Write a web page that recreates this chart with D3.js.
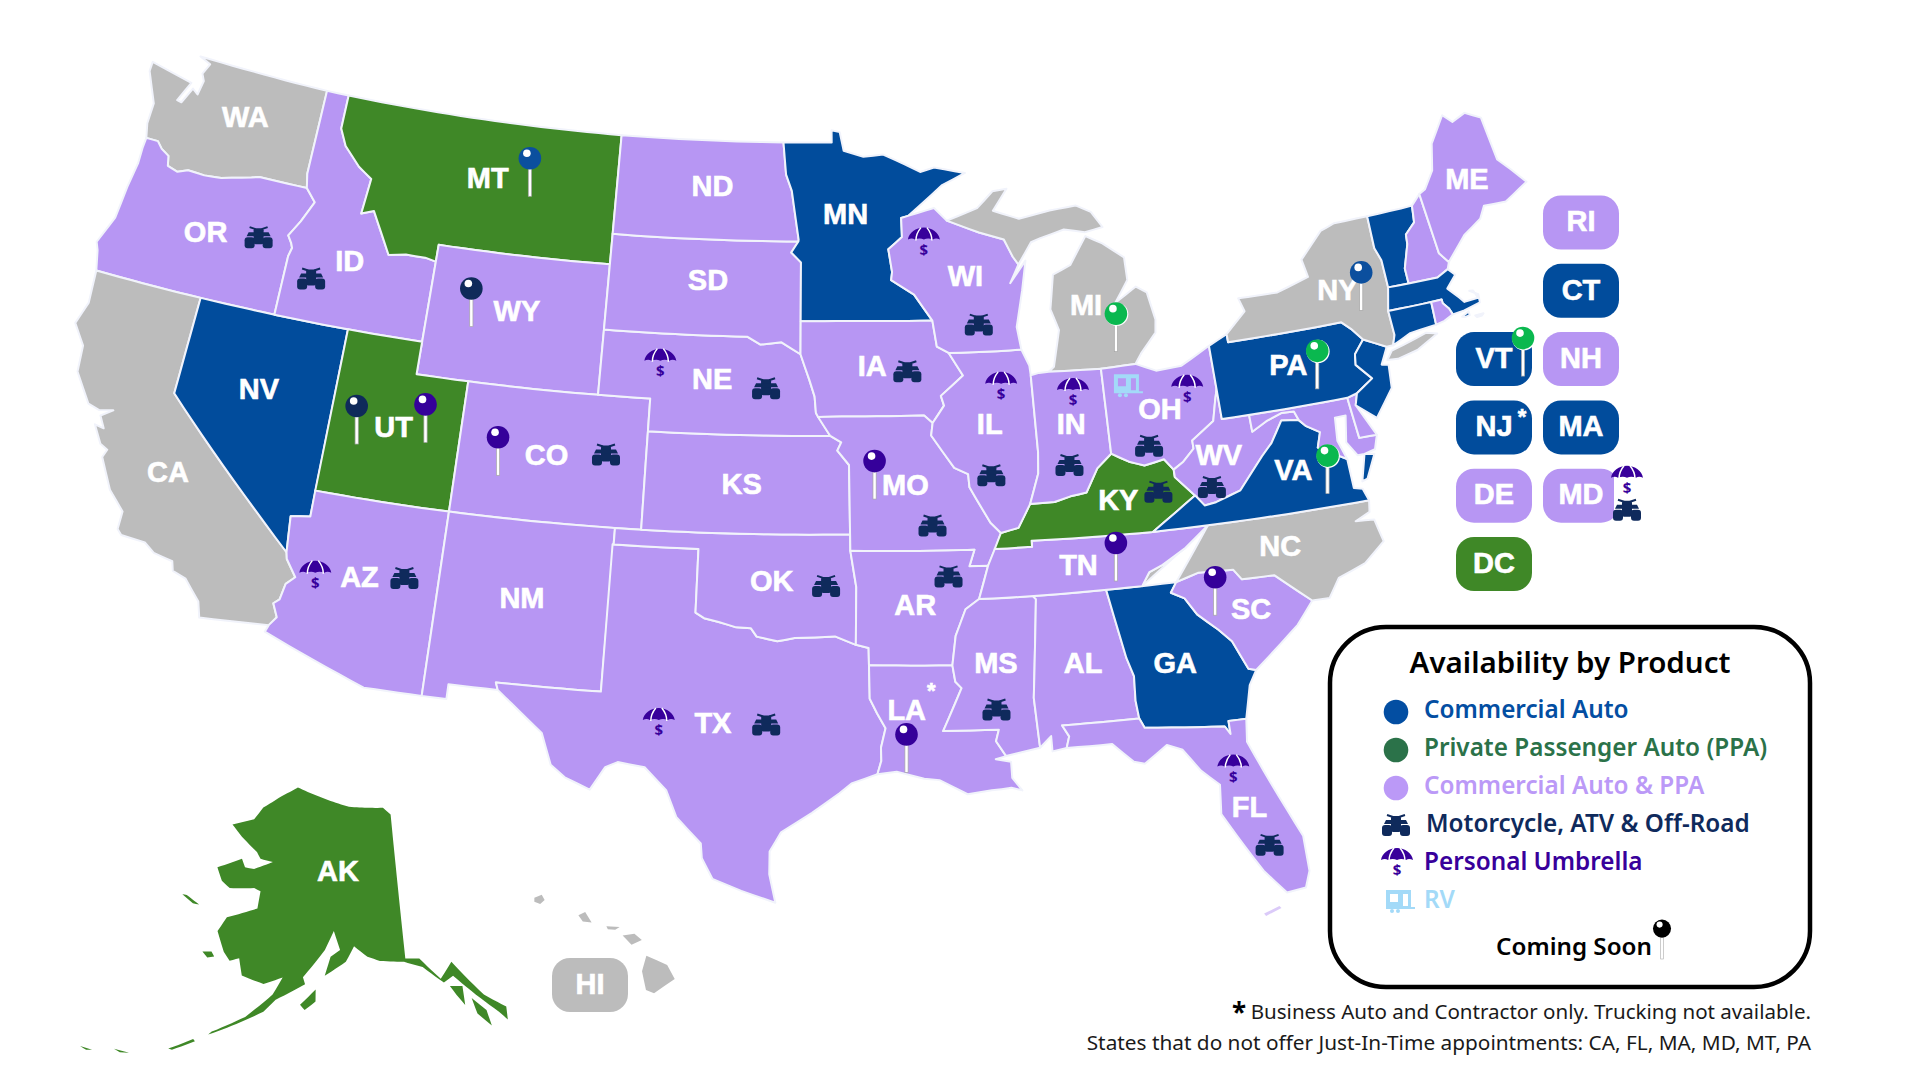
<!DOCTYPE html>
<html>
<head>
<meta charset="utf-8">
<style>
html,body{margin:0;padding:0;background:#fff;}
svg{display:block;}
</style>
<script src="https://cdn.jsdelivr.net/npm/d3@7"></script>
</head>
<body>
<svg id="map" width="1920" height="1080"></svg>
<script>
// shared borders, lon/lat
var columbia=[[-123.95,46.3],[-123.45,46.3],[-123.2,46.1],[-122.85,45.95],[-122.75,45.65],[-122.3,45.55],[-121.9,45.68],[-121.2,45.65],[-120.5,45.7],[-119.3,45.93],[-118.98,46.0],[-116.92,45.99]];
var snake=[[-116.92,45.99],[-116.46,45.61],[-116.85,44.95],[-117.22,44.45],[-117.03,44.24],[-116.95,44.1],[-117.03,43.83],[-117.03,42.0]];
var bitterroot=[[-116.05,48.0],[-115.7,47.5],[-114.95,46.95],[-114.33,46.65],[-114.45,45.55],[-113.95,45.7],[-113.45,45.05],[-113.0,44.45],[-112.3,44.55],[-111.5,44.55],[-111.05,44.48]];
var colorado=[[-114.63,35.0],[-114.57,34.8],[-114.14,34.3],[-114.43,34.05],[-114.53,33.55],[-114.72,33.4],[-114.5,33.0],[-114.72,32.72]];
var redRiver=[[-100,34.56],[-99.7,34.4],[-99.2,34.3],[-98.6,34.15],[-98.1,34.13],[-97.9,33.88],[-97.2,33.75],[-96.6,33.85],[-95.9,33.87],[-95.2,33.9],[-94.48,33.64]];
var sabine=[[-94.04,33.02],[-94.04,32.0],[-93.8,31.55],[-93.53,31.1],[-93.7,30.5],[-93.7,30.1],[-93.84,29.69]];
var missouriUp=[[-95.31,40],[-95.85,40.7],[-95.9,41.2],[-96.1,41.7],[-96.45,42.49]];
var neTop=[[-96.45,42.49],[-97.2,42.85],[-98.0,42.77],[-98.5,43],[-104.05,43]];
var ksMo=[[-95.31,40],[-94.9,39.8],[-95.05,39.55],[-94.62,39.11],[-94.62,37]];
var mnWi=[[-92.29,46.66],[-92.29,46.07],[-92.87,45.7],[-92.75,45.0],[-92.8,44.75],[-91.9,44.3],[-91.22,43.5]];
var ndMn=[[-97.23,49],[-97.1,48],[-96.85,47.5],[-96.55,46.0],[-96.56,45.94]];
var sdMn=[[-96.56,45.94],[-96.85,45.6],[-96.45,45.3],[-96.45,43.5]];
var iaIl=[[-91.22,43.5],[-91.1,42.7],[-90.65,42.5],[-90.15,41.8],[-91.05,41.2],[-90.95,40.9],[-91.42,40.38]];
var moIl=[[-91.42,40.38],[-91.5,40.0],[-90.7,39.0],[-90.2,38.8],[-90.18,38.4],[-89.5,37.3],[-89.15,36.98]];
var arMs=[[-89.7,36.0],[-90.1,35.0],[-90.6,34.7],[-91.0,33.9],[-91.17,33.0]];
var laMs=[[-91.17,33.0],[-91.1,32.5],[-90.9,32.3],[-91.6,31.0],[-89.73,31.0],[-89.85,30.65],[-89.55,30.18]];
var msAl=[[-88.2,35],[-88.1,34.9],[-88.47,31.9],[-88.4,30.37]];
var alGa=[[-85.6,35],[-85.18,32.87],[-85.0,32.3],[-85.05,31.55],[-85.0,31.0]];
var gaSc=[[-83.11,35],[-83.35,34.7],[-82.9,34.48],[-82.55,33.95],[-81.9,33.4],[-81.5,33.0],[-81.1,32.1],[-80.85,32.03]];
var ncSc=[[-83.11,35],[-82.3,35.2],[-81.05,35.15],[-80.8,34.82],[-79.67,34.8],[-78.55,33.86]];
var ncTn=[[-84.32,35],[-84.0,35.4],[-83.5,35.57],[-82.6,36.0],[-81.68,36.59]];
var kyOhio=[[-88.0,37.8],[-87.1,37.8],[-86.5,37.93],[-85.9,38.0],[-85.4,38.7],[-84.82,39.1]];
var kyOh=[[-84.82,39.1],[-84.2,38.8],[-83.65,38.63],[-82.9,38.75],[-82.6,38.4]];
var wvOh=[[-82.6,38.4],[-82.2,38.6],[-81.75,38.95],[-81.75,39.2],[-80.85,39.7],[-80.65,40.3],[-80.52,40.64]];
var kyWv=[[-82.6,38.4],[-82.6,38.17],[-81.97,37.54]];
var vaWv=[[-81.97,37.54],[-81.68,37.2],[-81.25,37.25],[-80.3,37.5],[-79.3,38.42],[-78.87,38.77],[-78.35,39.4],[-77.72,39.32]];
var mdWv=[[-79.48,39.72],[-79.48,39.2],[-78.9,39.45],[-78.3,39.62],[-77.83,39.6],[-77.72,39.32]];
var potomac=[[-77.72,39.32],[-77.5,39.1],[-77.05,38.85],[-77.25,38.4],[-76.3,37.9]];
var paNj=[[-74.7,41.36],[-75.13,40.97],[-75.2,40.65],[-74.72,40.15],[-75.4,39.8]];
var nyPa=[[-75.35,42.0],[-75.05,41.75],[-74.7,41.36]];
var nyVt=[[-73.35,45.0],[-73.4,44.0],[-73.25,43.6],[-73.27,42.75]];
var vtNh=[[-71.5,45.01],[-71.6,44.5],[-72.05,44.2],[-72.1,43.9],[-72.45,43.2],[-72.46,42.73]];
var nhMa=[[-72.46,42.73],[-71.3,42.7],[-70.82,42.87]];
var ri=[[-71.38,42.02],[-71.38,41.9],[-71.2,41.7],[-71.12,41.5]];
function rev(a){return a.slice().reverse();}

var WA=[[-124.7,48.6],[-122.84,48.3],[-123.2,47.67],[-123,47.64],[-122.7,48.14],[-122.44,48.0],[-122.35,48.45],[-122.5,48.66],[-122.3,49.0],[-122.8,49.16],[-117.03,49.05],[-117.04,46.42]].concat(rev(columbia),[[-124.1,46.74],[-124.1,47.38],[-124.7,48.3]]);
var OR=columbia.concat(snake.slice(1),[[-124.21,42],[-124.41,42.6],[-124.55,42.84],[-124.15,43.7],[-124.07,44.7],[-123.95,45.5],[-123.97,46.0]]);
var CA=[[-124.21,42],[-120,42],[-120,39]].concat(colorado,[[-117.12,32.53],[-117.28,33.0],[-117.9,33.6],[-118.4,33.75],[-118.5,34.03],[-119.2,34.15],[-119.6,34.4],[-120.47,34.45],[-120.65,34.6],[-120.65,35.15],[-121.3,35.7],[-121.9,36.6],[-121.8,36.85],[-122.1,36.97],[-122.5,37.5],[-122.15,37.45],[-122.4,37.8],[-122.0,38.05],[-122.5,37.95],[-122.95,38.05],[-123.7,38.9],[-123.8,39.7],[-124.35,40.3],[-124.1,41.0]]);
var NV=[[-120,42],[-114.04,42],[-114.04,36.2],[-114.75,36.1],[-114.63,35],[-120,39]];
var ID=[[-117.03,49.05],[-116.05,49.05]].concat(bitterroot,[[-111.05,42],[-117.03,42]],rev(snake).slice(1),[[-117.04,46.42]]);
var MT=[[-116.05,49.05],[-104.05,49],[-104.05,45],[-111.05,45]].concat(rev(bitterroot));
var WY=[[-111.05,45],[-104.05,45],[-104.05,41],[-111.05,41]];
var UT=[[-114.04,42],[-111.05,42],[-111.05,41],[-109.05,41],[-109.05,37],[-114.05,37]];
var CO=[[-109.05,41],[-102.05,41],[-102.05,37],[-109.05,37]];
var AZ=[[-114.05,37],[-109.05,37],[-109.05,31.33],[-111.07,31.33],[-114.81,32.5]].concat(rev(colorado),[[-114.75,36.1],[-114.04,36.2]]);
var NM=[[-109.05,37],[-103,37],[-103.04,32],[-106.62,32],[-106.53,31.78],[-108.21,31.78],[-108.21,31.33],[-109.05,31.33]];
var TX=[[-103.04,36.5],[-100,36.5]].concat(redRiver,[[-94.04,33.55]],sabine,[[-94.7,29.4],[-95.1,29.1],[-96.0,28.5],[-97.0,27.9],[-97.35,27.3],[-97.35,26.6],[-97.15,25.72],[-98.2,26.07],[-99.1,26.42],[-99.45,27.05],[-99.5,27.5],[-100.3,28.28],[-100.67,29.1],[-101.4,29.77],[-102.3,29.88],[-102.7,29.7],[-103.15,28.98],[-104.0,29.3],[-104.5,29.65],[-104.9,30.6],[-106.0,31.4],[-106.53,31.78],[-106.62,32],[-103.04,32]]);
var OK=[[-103,37],[-94.62,37],[-94.62,36.5],[-94.43,35.4]].concat(rev(redRiver),[[-100,36.5],[-103,36.5]]);
var KS=[[-102.05,40]].concat(ksMo,[[-102.05,37]]);
var NE=[[-104.05,43]].concat(rev(neTop).slice(1),rev(missouriUp).slice(1),[[-102.05,40],[-102.05,41],[-104.05,41]]);
var SD=[[-104.05,45.94]].concat(sdMn,[[-96.45,42.49]],neTop.slice(1));
var ND=[[-104.05,49]].concat(ndMn,[[-104.05,45.94]]);
var MN=[[-97.23,49],[-95.15,49],[-95.15,49.38],[-94.8,49.32],[-94.64,48.74],[-93.8,48.55],[-92.95,48.62],[-92.0,48.3],[-91.4,48.07],[-90.8,48.2],[-89.5,48.0],[-90.5,47.65],[-92.0,46.72]].concat(mnWi,rev(sdMn),rev(ndMn).slice(1,-1));
var IA=[[-96.45,43.5]].concat(iaIl,[[-91.73,40.61],[-95.77,40.58]],missouriUp.slice(1));
var MO=[[-95.77,40.58],[-91.73,40.61]].concat(moIl,[[-89.4,36.5],[-89.7,36.0],[-90.37,36.0],[-90.15,36.5],[-94.62,36.5],[-94.62,37]],rev(ksMo).slice(1));
var AR=[[-94.62,36.5],[-90.15,36.5],[-90.37,36.0]].concat(arMs,[[-94.04,33.02],[-94.04,33.55],[-94.48,33.64],[-94.43,35.4]]);
var LA=[[-94.04,33.02]].concat(laMs,[[-89.9,30.1],[-89.4,30.0],[-89.4,29.5],[-89.1,29.1],[-89.45,29.2],[-90.1,29.15],[-90.9,29.05],[-91.8,29.5],[-92.3,29.55],[-93.2,29.77]],rev(sabine).slice(0,-1));
var MS=[[-90.1,35]].concat(msAl,rev(laMs),rev(arMs).slice(1,-2));
var AL=msAl.concat([[-88.0,30.7],[-88.0,30.23],[-87.52,30.3],[-87.4,30.65],[-87.6,31.0]],rev(alGa));
var GA=[[-85.6,35]].concat(gaSc,[[-81.15,31.6],[-81.45,30.6],[-82.05,30.6],[-82.05,30.2],[-82.2,30.45],[-84.86,30.7]],rev(alGa).slice(0,-1));
var FL=[[-87.6,31],[-85,31],[-84.86,30.7],[-82.2,30.45],[-82.05,30.2],[-82.05,30.6],[-81.45,30.6],[-81.55,29.9],[-81.0,28.5],[-80.3,26.8],[-80.3,25.7],[-80.5,25.2],[-81.1,25.13],[-81.7,25.9],[-82.15,26.7],[-82.75,27.8],[-82.65,28.7],[-83.2,29.2],[-83.7,29.9],[-84.2,30.1],[-85.0,29.6],[-85.35,29.7],[-86.0,30.3],[-87.52,30.3],[-87.4,30.65]];
var SC=ncSc.concat([[-79.2,33.2],[-79.9,32.7]],rev(gaSc).slice(0,-1));
var NC=[[-81.68,36.59],[-75.87,36.55],[-75.95,36.2],[-76.5,36.0],[-75.85,35.95],[-75.7,35.25],[-76.5,34.7],[-77.5,34.4],[-77.95,33.85]].concat(rev(ncSc),rev(ncTn));
var TN=[[-89.42,36.5],[-88.07,36.5],[-88.07,36.68],[-83.68,36.6]].concat(rev(ncTn),[[-90.1,35],[-89.7,36]]);
var KY=[[-89.42,36.5],[-89.15,36.98],[-88.5,37.1]].concat(kyOhio,kyOh.slice(1),kyWv.slice(1),[[-83.68,36.6],[-88.07,36.68],[-88.07,36.5]]);
var IL=[[-90.65,42.5],[-87.8,42.5],[-87.55,42.0],[-87.53,41.7],[-87.53,39.35],[-87.6,38.7],[-88.0,37.8],[-88.5,37.1]].concat(rev(moIl),[[-90.95,40.9],[-91.05,41.2],[-90.15,41.8]]);
var WI=[[-92.29,46.66],[-92,46.72],[-90.9,46.95],[-90.4,46.55],[-89.1,46.15],[-88.1,45.9],[-87.8,45.35],[-87.6,45.1],[-88.0,44.55],[-87.3,45.2],[-87.55,44.3],[-87.9,43.2],[-87.8,42.5],[-90.65,42.5],[-91.1,42.7]].concat(rev(mnWi).slice(0,-1));
var MI_LOWER=[[-86.82,41.76],[-84.8,41.7],[-83.45,41.73],[-83.15,42.05],[-82.5,42.6],[-82.42,43.0],[-82.6,43.85],[-83.0,44.07],[-83.9,43.65],[-83.3,44.3],[-83.3,45.0],[-84.1,45.5],[-84.75,45.78],[-85.1,45.4],[-85.5,44.95],[-86.25,44.7],[-86.5,43.65],[-86.25,43.0],[-86.6,41.9]];
var MI_UPPER=[[-90.4,46.55],[-89.1,46.9],[-88.4,47.4],[-87.8,47.45],[-88.45,46.8],[-87.4,46.5],[-86.1,46.67],[-85.0,46.75],[-84.4,46.5],[-84.0,46.0],[-84.75,45.9],[-85.6,46.05],[-86.6,45.85],[-87.0,45.75],[-87.6,45.1],[-87.8,45.35],[-88.1,45.9],[-89.1,46.15]];
var IN=[[-87.53,41.7],[-87.2,41.75],[-86.82,41.76],[-84.8,41.7],[-84.82,39.1]].concat(rev(kyOhio).slice(1),[[-87.6,38.7],[-87.53,39.35]]);
var OH=[[-84.8,41.7],[-83.45,41.73],[-82.7,41.45],[-81.7,41.5],[-80.52,41.98],[-80.52,40.64]].concat(rev(wvOh).slice(1),rev(kyOh).slice(1));
var WV=[[-80.52,40.64],[-80.52,39.72]].concat(mdWv,rev(vaWv).slice(1),rev(kyWv).slice(1),wvOh.slice(1,-1));
var VA=[[-83.68,36.6]].concat(vaWv,potomac.slice(1),[[-76.3,37.0],[-76.0,36.93],[-75.87,36.55],[-81.68,36.59]]);
var VA_SHORE=[[-75.95,37.15],[-75.65,37.95],[-75.3,37.9],[-75.75,37.2]];
var MD=[[-79.48,39.72],[-75.79,39.72],[-75.7,38.46],[-75.05,38.45],[-75.24,38.03],[-75.65,37.95],[-75.9,37.95],[-76.2,38.4],[-76.0,39.2],[-76.4,39.2],[-76.5,38.5]].concat(rev(potomac),rev(mdWv).slice(1,-1));
var DE=[[-75.79,39.72],[-75.4,39.8],[-75.55,39.45],[-75.05,38.45],[-75.7,38.46]];
var PA=[[-80.52,41.98],[-79.76,42.25],[-79.76,42]].concat(nyPa,paNj.slice(1),[[-75.79,39.72],[-80.52,39.72]]);
var NJ=[[-74.7,41.36],[-73.9,41.0],[-74.25,40.5],[-74.0,40.45],[-74.1,39.75],[-74.9,38.95],[-75.55,39.45]].concat(rev(paNj).slice(0,-1));
var NY=[[-79.76,42.25],[-78.9,42.85],[-79.05,43.27],[-77.5,43.25],[-76.2,43.55],[-76.3,44.1],[-75.3,44.85],[-74.7,45]].concat(nyVt,[[-73.5,42.05],[-73.5,41.3],[-73.65,41.0],[-73.9,41.0]],rev(nyPa),[[-79.76,42]]);
var LONG_ISLAND=[[-74.0,40.6],[-73.75,40.85],[-72.3,41.15],[-71.9,41.05],[-72.8,40.7],[-73.6,40.57]];
var VT=nyVt.concat(rev(vtNh));
var NH=vtNh.concat(nhMa.slice(1),[[-70.7,43.07],[-70.98,43.4],[-71.08,45.3]]);
var ME=[[-71.08,45.3],[-70.8,45.4],[-70.3,45.9],[-70.0,46.7],[-69.23,47.46],[-68.9,47.18],[-68.3,47.35],[-67.7,47.07],[-67.6,45.7],[-67.2,45.3],[-66.75,44.8],[-67.8,44.4],[-68.7,44.45],[-69.0,44.1],[-69.8,43.75],[-70.7,43.07],[-70.98,43.4]];
var MA=[[-73.5,42.05],[-73.27,42.75]].concat(nhMa.slice(0),[[-70.6,42.65],[-71.05,42.3],[-70.7,41.95],[-70.55,41.78],[-70.0,41.8],[-70.1,42.05],[-70.25,42.07],[-69.95,41.9],[-69.98,41.65],[-70.65,41.53]],rev(ri),[[-71.8,42.02]]);
var CT=[[-73.5,42.05],[-71.8,42.02],[-71.85,41.32],[-72.9,41.25],[-73.65,41],[-73.5,41.3]];
var RI=[[-71.8,42.02]].concat(ri,[[-71.5,41.37],[-71.85,41.32]]);
var NANTUCKET=[[-70.3,41.3],[-69.97,41.3],[-70.05,41.25],[-70.25,41.24]];
var MARTHA=[[-70.8,41.36],[-70.5,41.47],[-70.5,41.35],[-70.7,41.33]];
var FL_KEYS=[[-81.35,24.68],[-81.85,24.5],[-81.9,24.58],[-81.4,24.75]];

var AK=[[-158.8,70.87],[-148.85,69.95],[-142.6,69.84],[-141.3,69.36],[-141,60.04],[-139.2,59.95],[-136.86,58.47],[-135.2,59.44],[-132.1,56.96],[-129.9,55.86],[-130.1,55.03],[-130.85,55.66],[-133.45,57.34],[-135.3,58.54],[-136.55,58.2],[-138.9,59.38],[-141.2,59.83],[-144.3,59.99],[-145.9,60.28],[-147.66,60.95],[-148.7,59.95],[-151.3,59.0],[-150.7,60.24],[-149.5,60.7],[-150.45,61.9],[-151.5,60.65],[-154,58.78],[-153.65,58.35],[-156.95,57.13],[-158.15,56.24],[-160,55.5],[-163.7,54.06],[-163.4,54.3],[-160.1,55.7],[-157.4,57.42],[-156.5,58.6],[-158.7,58.0],[-161.5,58.25],[-162.3,59.3],[-163.4,59.0],[-164.4,59.47],[-165.9,60.64],[-165.2,61.65],[-161.4,62.67],[-161.5,63.8],[-162.5,63.9],[-165.95,63.5],[-167.35,63.8],[-168.6,64.54],[-165.4,65.53],[-164.6,65.05],[-163.2,65.1],[-160.6,65.8],[-162.6,65.83],[-163.4,66.2],[-166.4,66.9],[-168.5,67.47],[-165.25,68.2],[-164.25,69.1],[-161.5,70.1]];
var AK_KODIAK=[[-154,57],[-152.3,58.08],[-152.2,57.3],[-153.4,56.7]];
var AK_PANHANDLE1=[[-135.9,57.92],[-134.4,57.78],[-134.5,56.55],[-135.3,57.3]];
var AK_PANHANDLE2=[[-133.6,56.9],[-132.2,55.95],[-132,54.9],[-133.3,55.85]];
var AK_NUNIVAK=[[-167,59.1],[-165.9,59.26],[-165.4,59],[-166.2,58.82]];
var AK_STLAWRENCE=[[-172,62.14],[-171.4,62.2],[-169.35,61.9],[-170.2,61.83]];
var AK_ALEUT1=[[-167.4,52.48],[-165.15,53.53],[-164.9,53.43],[-167,52.48]];
var AK_ALEUT2=[[-172.7,51.28],[-171.1,51.4],[-172,51.2]];
var AK_ALEUT3=[[-175.95,50.56],[-174.7,50.66],[-175.25,50.5]];
var HI_BIG=[[-155.9,20.25],[-155.2,19.95],[-154.95,19.5],[-155.65,19.05],[-155.92,19.15],[-156.05,19.75]];
var HI_MAUI=[[-156.7,20.9],[-156.3,20.95],[-156.05,20.75],[-156.4,20.6],[-156.6,20.8]];
var HI_MOLOKAI=[[-157.25,21.2],[-156.8,21.17],[-156.95,21.08],[-157.2,21.1]];
var HI_OAHU=[[-158.2,21.55],[-157.97,21.65],[-157.75,21.32],[-158.05,21.35]];
var HI_KAUAI=[[-159.7,22.1],[-159.45,22.2],[-159.35,22.03],[-159.5,21.9],[-159.7,21.97]];

var shapes={WA:[WA],OR:[OR],CA:[CA],NV:[NV],ID:[ID],MT:[MT],WY:[WY],UT:[UT],CO:[CO],AZ:[AZ],NM:[NM],TX:[TX],OK:[OK],KS:[KS],NE:[NE],SD:[SD],ND:[ND],MN:[MN],IA:[IA],MO:[MO],AR:[AR],LA:[LA],MS:[MS],AL:[AL],GA:[GA],FL:[FL],SC:[SC],NC:[NC],TN:[TN],KY:[KY],IL:[IL],WI:[WI],MI:[MI_LOWER,MI_UPPER],IN:[IN],OH:[OH],WV:[WV],VA:[VA,VA_SHORE],MD:[MD],DE:[DE],PA:[PA],NJ:[NJ],NY:[NY,LONG_ISLAND],VT:[VT],NH:[NH],ME:[ME],MA:[MA,NANTUCKET,MARTHA],CT:[CT],RI:[RI]};
var akRings=[AK,AK_KODIAK,AK_PANHANDLE1,AK_PANHANDLE2,AK_NUNIVAK,AK_STLAWRENCE,AK_ALEUT1,AK_ALEUT2,AK_ALEUT3];
var hiRings=[HI_BIG,HI_MAUI,HI_MOLOKAI,HI_OAHU,HI_KAUAI];

// availability groups
var commercialStates=["NV","MN","PA","NJ","VA","GA","VT","MA","CT"];
var ppaStates=["MT","UT","KY"];
var noProductStates=["WA","CA","NC","NY","MI"];

// label lon/lat
var stateLabels=[["WA",-120.2,47.65],["OR",-120.5,43.95],["ID",-114.6,44.0],["MT",-109.65,47.18],["WY",-107.7,43.26],["ND",-100.2,47.56],["SD",-100.2,44.65],["MN",-94.6,46.74],["NV",-116.95,39.65],["UT",-111.7,39.24],["CO",-105.9,39.0],["CA",-119.45,36.6],["NE",-99.86,41.63],["IA",-93.66,42.06],["KS",-98.6,38.46],["MO",-92.55,38.43],["IL",-89.27,40.15],["IN",-86.2,39.95],["OH",-82.8,40.09],["WI",-89.8,44.7],["MI",-85.1,43.5],["NY",-75.2,42.76],["PA",-77.7,40.8],["ME",-69,45.15],["VA",-78.3,37.66],["WV",-80.9,38.46],["KY",-84.8,37.5],["TN",-86.5,35.65],["NC",-79.3,35.44],["SC",-80.7,33.7],["GA",-83.57,32.38],["AL",-86.7,32.67],["MS",-89.68,32.88],["AR",-92.37,34.77],["LA",-92.8,31.58],["OK",-97.43,35.55],["TX",-99.33,31.16],["NM",-106.2,34.6],["AZ",-111.96,34.6],["FL",-81.85,27.7]];
var atvSpots=[["OR",-118.4,44.2],["ID",-115.97,43.3],["CO",-103.7,39.2],["NE",-97.77,41.44],["IA",-92.3,41.92],["MO",-91.62,37.2],["OK",-95.5,35.44],["AR",-91.14,35.63],["TX",-97.54,31.2],["MS",-89.77,31.5],["AZ",-110.4,34.8],["IL",-89.35,38.63],["WI",-89.4,43.23],["IN",-86.43,38.75],["OH",-83.4,39.07],["WV",-81.34,37.57],["KY",-83.3,37.65],["FL",-81.4,26.5]];
var umbrellaSpots=[["WI",-91.4,45.83],["NE",-101.9,42.07],["IL",-88.72,41.29],["IN",-86.0,40.92],["OH",-81.66,40.6],["AZ",-113.5,34.45],["TX",-101.15,31.14],["FL",-82.17,28.95]];
var rvSpots=[["OH",-83.87,41.0]];
// pin tip lon/lat, with the product colour
var pinSpots=[["commercial",-107.8,46.83],["motor",-109.4,42.65],["motor",-112.95,38.6],["umbrella",-110.44,38.97],["umbrella",-107.6,38.26],["umbrella",-93.7,38.06],["umbrella",-85.24,35.1],["umbrella",-81.96,33.7],["umbrella",-92.88,29.7],["green",-84.16,42.03],["commercial",-74.47,42.05],["green",-76.8,39.98],["green",-77.25,36.8]];
var asteriskSpots=[[-91.94,32.14]];

// states too small for a label, [state,col,row]
var boxStates=[["RI",1,0],["CT",1,1],["VT",0,2],["NH",1,2],["NJ",0,3],["MA",1,3],["DE",0,4],["MD",1,4],["DC",0,5]];

var legendLabels=["Commercial Auto","Private Passenger Auto (PPA)","Commercial Auto & PPA","Motorcycle, ATV & Off-Road","Personal Umbrella","RV"];
var legendColors=["#034ea2","#2b7249","#bb99f7","#0f2a5c","#38009b","#a3daf8"];
var footnotes=["Business Auto and Contractor only. Trucking not available.","States that do not offer Just-In-Time appointments: CA, FL, MA, MD, MT, PA"];

var BLUE="#014c9c",GREEN="#3f8827",LAV="#b796f3",GRAY="#bcbcbc";
var pinColors={commercial:"#0b4f9e",motor:"#0f2a5a",umbrella:"#35009a",green:"#0ab84f",black:"#000"};

var svg=d3.select("#map");

var albers=d3.geoAlbers().parallels([29.5,45.5]).rotate([96,0]).center([0,40]).scale(1960).translate([812,436]);
var sx=d3.scaleLinear().domain([812,1812]).range([812,1832]);
var sy=d3.scaleLinear().domain([436,1436]).range([436,1388]);
function lower48(p){var q=albers(p);return [sx(q[0]),sy(q[1])];}
// the source map is not a clean Albers, these pull the outlines onto it
var warpX=d3.scaleLinear().domain([250,420,650,780,1250,1400]).range([0,-4,-4,0,0,3]).clamp(true);
var warpY=d3.scaleLinear().domain([850,1000,1400]).range([0,4,6]).clamp(true);
function lower48Shape(p){var q=lower48(p);return [q[0]+warpX(q[0]),q[1]+warpY(q[0])];}
var akProj=d3.geoAlbers().parallels([55,65]).rotate([147,0]).center([0,62]).scale(890).translate([359,930]);
var hiProj=d3.geoAlbers().parallels([8,18]).rotate([157.5,0]).center([0,20.5]).scale(1800).translate([599,948]);

// parallels need to stay curved, so long edges get split up before projecting
function dense(ring){
    var out=[];
    ring.forEach(function(p,i){
        var q=ring[(i+1)%ring.length];
        var n=Math.ceil(Math.max(Math.abs(q[0]-p[0]),Math.abs(q[1]-p[1]))/0.5)||1;
        for(var k=0;k<n;k++){
            out.push([p[0]+(q[0]-p[0])*k/n,p[1]+(q[1]-p[1])*k/n]);
        }
    });
    return out;
}
var line=d3.line();
function ringPath(rings,proj){
    return rings.map(function(r){return line(dense(r).map(proj))+"Z";}).join("");
}
function stateColor(s){
    if(commercialStates.indexOf(s)>=0){return BLUE;}
    if(ppaStates.indexOf(s)>=0){return GREEN;}
    if(noProductStates.indexOf(s)>=0){return GRAY;}
    return LAV;
}

svg.append("g").selectAll("path").data(Object.keys(shapes)).enter().append("path")
    .attr("d",function(s){return ringPath(shapes[s],lower48Shape);})
    .attr("fill",stateColor)
    .attr("stroke","#f1f3fb").attr("stroke-width",2).attr("stroke-linejoin","round");
svg.append("path").attr("d",ringPath([FL_KEYS],lower48Shape)).attr("fill",LAV).attr("opacity",0.5);
svg.append("path").attr("d",ringPath(akRings,function(p){return akProj(p);})).attr("fill",GREEN);
svg.append("path").attr("d",ringPath(hiRings,function(p){return hiProj(p);})).attr("fill",GRAY);

function label(parent,x,y,txt,size){
    return parent.append("text").attr("x",x).attr("y",y).attr("dy","0.3em").attr("text-anchor","middle")
        .attr("font-family","'Liberation Sans',Arial,sans-serif").attr("font-weight",700)
        .attr("font-size",size||29).attr("fill","#fff").attr("stroke","#fff").attr("stroke-width",0.6).text(txt);
}

function drawAtv(x,y,s){
    var g=svg.append("g").attr("transform","translate("+x+","+y+") scale("+(s||1)+")").attr("fill",legendColors[3]);
    g.append("rect").attr("x",-14).attr("y",0).attr("width",10).attr("height",11).attr("rx",3);
    g.append("rect").attr("x",4).attr("y",0).attr("width",10).attr("height",11).attr("rx",3);
    g.append("rect").attr("x",-5).attr("y",-9).attr("width",10).attr("height",16).attr("rx",2);
    g.append("path").attr("d","M-12,-1L-10,-5H10L12,-1Z");
    g.append("path").attr("d","M-9,-10L-3,-8M9,-10L3,-8").attr("fill","none").attr("stroke",legendColors[3]).attr("stroke-width",2);
}
function drawUmbrella(x,y,s){
    var g=svg.append("g").attr("transform","translate("+x+","+y+") scale("+(s||1)+")");
    g.append("path").attr("d","M-16,-3C-15,-10 -8,-15 0,-15C8,-15 15,-10 16,-3Q12,-5 9,-3Q4,-5 0,-3Q-4,-5 -9,-3Q-12,-5 -16,-3Z").attr("fill",legendColors[4]);
    g.append("path").attr("d","M-3,-15Q-8,-9 -8,-2M3,-15Q8,-9 8,-2").attr("fill","none").attr("stroke","#fff").attr("stroke-width",1.5);
    g.append("text").attr("y",12).attr("text-anchor","middle").attr("font-family","'Noto Sans',sans-serif").attr("font-weight",700)
        .attr("font-size",15).attr("fill",legendColors[4]).text("$");
}
function drawRv(x,y,s){
    var g=svg.append("g").attr("transform","translate("+x+","+y+") scale("+(s||1)+")").attr("fill",legendColors[5]);
    g.append("path").attr("fill-rule","evenodd").attr("d","M-14,-10H11V7H15V9H-14ZM-10,-6V2H-2V-6ZM3,-6V6H8V-6Z");
    g.append("circle").attr("cx",-8).attr("cy",11).attr("r",2);
    g.append("circle").attr("cx",-2).attr("cy",11).attr("r",2);
}
function drawPin(x,y,color,scale){
    var k=scale||1;
    var g=svg.append("g").attr("transform","translate("+x+","+y+") scale("+k+")");
    g.append("rect").attr("x",-1.6).attr("y",-30).attr("width",3.2).attr("height",30).attr("fill","#fff").attr("stroke","#a5a5a5").attr("stroke-width",0.7);
    if(color===pinColors.green){
        g.append("circle").attr("cx",0.8).attr("cy",-37.4).attr("r",11.6).attr("fill","#fff");
    }
    g.append("circle").attr("cx",0).attr("cy",-38).attr("r",11.3).attr("fill",color);
    g.append("circle").attr("cx",-3).attr("cy",-43).attr("r",3.8).attr("fill","#fff");
}

stateLabels.forEach(function(d){
    var p=lower48([d[1],d[2]]);
    label(svg,p[0],p[1],d[0]);
});
var ak=akProj([-150.3,65.7]);
label(svg,ak[0],ak[1],"AK");

atvSpots.forEach(function(d){var p=lower48([d[1],d[2]]);drawAtv(p[0],p[1]);});
umbrellaSpots.forEach(function(d){var p=lower48([d[1],d[2]]);drawUmbrella(p[0],p[1]);});
rvSpots.forEach(function(d){var p=lower48([d[1],d[2]]);drawRv(p[0],p[1]);});
pinSpots.forEach(function(d){var p=lower48([d[1],d[2]]);drawPin(p[0],p[1],pinColors[d[0]]);});
asteriskSpots.forEach(function(d){var p=lower48([d[0],d[1]]);label(svg,p[0],p[1],"*",22);});

// side boxes
var colX=d3.scalePoint().domain([0,1]).range([1494,1581]);
var rowY=d3.scalePoint().domain([0,1,2,3,4,5]).range([222.5,564]);
function box(name,cx,cy,fill){
    svg.append("rect").attr("x",cx-38).attr("y",cy-27).attr("width",76).attr("height",54).attr("rx",18).attr("fill",fill);
    label(svg,cx,cy,name);
}
boxStates.forEach(function(d){
    var fill=d[0]==="DC"?GREEN:stateColor(d[0]);
    box(d[0],colX(d[1]),rowY(d[2]),fill);
});
box("HI",590,985,GRAY);
label(svg,colX(0)+28,rowY(3)-10,"*",22);
drawPin(colX(0)+29,rowY(2)+17,pinColors.green);
svg.append("rect").attr("x",colX(1)+33).attr("y",rowY(4)-29).attr("width",40).attr("height",60).attr("fill","#fff");
drawUmbrella(colX(1)+46,rowY(4)-15);
drawAtv(colX(1)+46,rowY(4)+14);

// legend
svg.append("rect").attr("x",1330).attr("y",627).attr("width",480).attr("height",360).attr("rx",56)
    .attr("fill","#fff").attr("stroke","#000").attr("stroke-width",4.5);
function legendText(x,y,txt,color,size,weight,anchor){
    return svg.append("text").attr("x",x).attr("y",y).attr("font-family","'Noto Sans',sans-serif").attr("font-weight",weight||600)
        .attr("font-size",size).attr("fill",color).attr("text-anchor",anchor||"start").text(txt);
}
legendText(1570,673,"Availability by Product","#000",29.5,600,"middle");
var legendY=d3.scalePoint().domain(d3.range(6)).range([718,908]);
legendLabels.forEach(function(t,i){
    legendText(i===3?1426:1424,legendY(i),t,legendColors[i],24.3);
    if(i<3){
        svg.append("circle").attr("cx",1396).attr("cy",legendY(i)-6).attr("r",12.3).attr("fill",legendColors[i]);
    }
});
drawAtv(1396,825);
drawUmbrella(1397,863);
drawRv(1400,900);
legendText(1574,955,"Coming Soon","#000",24.2,600,"middle");
drawPin(1662,959,pinColors.black,0.8);

// footnotes
legendText(1811,1019,footnotes[0],"#1a1a1a",20.55,400,"end");
legendText(1232,1022,"*","#000",26,700,"start");
legendText(1811,1050,footnotes[1],"#1a1a1a",20.8,400,"end");
</script>
</body>
</html>
